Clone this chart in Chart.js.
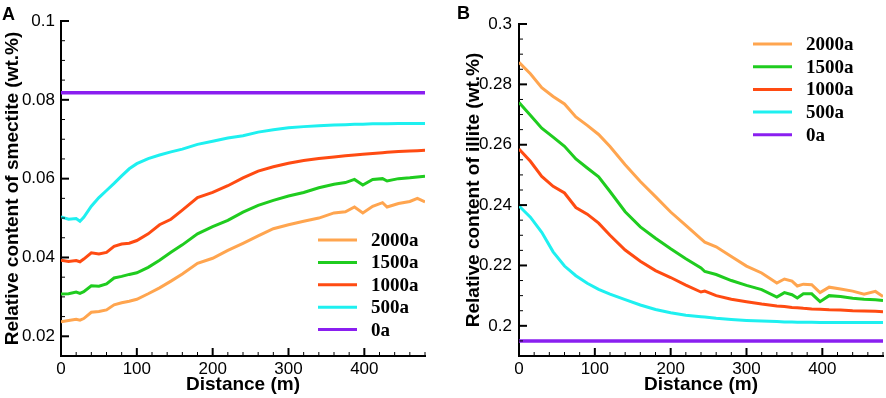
<!DOCTYPE html>
<html>
<head>
<meta charset="utf-8">
<title>Relative content of smectite and illite vs distance</title>
<script src="https://cdn.jsdelivr.net/npm/chart.js"></script>
<style>
    body { margin: 0; background: #fff; }
    #wrap { position: relative; width: 886px; height: 398px; overflow: hidden; }
    .panel { position: absolute; top: 0; width: 443px; height: 398px; }
    #panelA { left: 0; }
    #panelB { left: 443px; }
    .tag { position: absolute; font: bold 18px Arial, "Liberation Sans", sans-serif; line-height: 1; color: #000; }
</style>
</head>
<body>
<div id="wrap">
    <div class="panel" id="panelA"><canvas id="smectite-chart" width="443" height="398"></canvas></div>
    <div class="panel" id="panelB"><canvas id="illite-chart" width="443" height="398"></canvas></div>
    <div class="tag" style="left:2px;top:5px">A</div>
    <div class="tag" style="left:457px;top:4px">B</div>
</div>

<script>
// ---- panel A: smectite (distance in m, content in wt.%) ----
const distA = [0, 10, 20, 25, 30, 40, 50, 60, 70, 80, 90, 100, 115, 130, 145, 160, 180, 200, 220, 240,
               260, 280, 300, 320, 340, 360, 375, 387, 398, 411, 424, 430, 445, 460, 470, 480];
const smectite2000 = [0.0237, 0.0240, 0.0243, 0.0241, 0.0245, 0.0261, 0.0263, 0.0267, 0.0280, 0.0285,
                      0.0289, 0.0294, 0.0308, 0.0323, 0.0340, 0.0358, 0.0385, 0.0398, 0.0418, 0.0436,
                      0.0455, 0.0473, 0.0483, 0.0492, 0.0500, 0.0513, 0.0516, 0.0528, 0.0513, 0.0530,
                      0.0539, 0.0528, 0.0537, 0.0542, 0.0550, 0.0541];
const smectite1500 = [0.0307, 0.0308, 0.0312, 0.0309, 0.0313, 0.0328, 0.0327, 0.0333, 0.0348, 0.0352,
                      0.0357, 0.0361, 0.0375, 0.0393, 0.0413, 0.0432, 0.0460, 0.0478, 0.0494, 0.0515,
                      0.0532, 0.0545, 0.0556, 0.0565, 0.0577, 0.0586, 0.0590, 0.0598, 0.0584, 0.0598,
                      0.0600, 0.0594, 0.0600, 0.0602, 0.0604, 0.0606];
const smectite1000 = [0.0393, 0.0390, 0.0392, 0.0389, 0.0396, 0.0412, 0.0409, 0.0413, 0.0428, 0.0434,
                      0.0436, 0.0443, 0.0460, 0.0483, 0.0497, 0.0520, 0.0552, 0.0565, 0.0582, 0.0602,
                      0.0619, 0.0630, 0.0639, 0.0646, 0.0651, 0.0655, 0.0658, 0.0660, 0.0662, 0.0664,
                      0.0666, 0.0667, 0.0669, 0.0670, 0.0671, 0.0672];
const smectite500  = [0.0503, 0.0497, 0.0499, 0.0492, 0.0502, 0.0530, 0.0552, 0.0570, 0.0588, 0.0607,
                      0.0625, 0.0638, 0.0651, 0.0660, 0.0668, 0.0675, 0.0687, 0.0695, 0.0703, 0.0709,
                      0.0718, 0.0724, 0.0729, 0.0732, 0.0734, 0.0736, 0.0737, 0.0738, 0.0738, 0.0739,
                      0.0739, 0.0739, 0.0740, 0.0740, 0.0740, 0.0740];
const smectite0Dist = [0, 480];
const smectite0 = [0.0818, 0.0818];
const smectiteTicks = [0.02, 0.04, 0.06, 0.08, 0.1];

// ---- panel B: illite ----
const distB = [0, 15, 30, 45, 60, 75, 90, 105, 120, 140, 160, 180, 200, 220, 240, 245, 260, 280, 300, 320,
               340, 350, 360, 367, 375, 386, 397, 409, 424, 440, 455, 470, 480];
const illite2000 = [0.2873, 0.2835, 0.2789, 0.2760, 0.2735, 0.2692, 0.2664, 0.2634, 0.2594, 0.2534,
                    0.2478, 0.2428, 0.2377, 0.2333, 0.2288, 0.2277, 0.2262, 0.2230, 0.2198, 0.2175,
                    0.2142, 0.2155, 0.2148, 0.2132, 0.2138, 0.2136, 0.2110, 0.2128, 0.2122, 0.2115,
                    0.2105, 0.2114, 0.2097];
const illite1500 = [0.2740, 0.2698, 0.2655, 0.2625, 0.2595, 0.2553, 0.2523, 0.2494, 0.2445, 0.2378,
                    0.2328, 0.2290, 0.2255, 0.2222, 0.2192, 0.2180, 0.2170, 0.2150, 0.2134, 0.2120,
                    0.2095, 0.2110, 0.2103, 0.2092, 0.2106, 0.2106, 0.2080, 0.2100, 0.2097, 0.2091,
                    0.2088, 0.2086, 0.2084];
const illite1000 = [0.2586, 0.2545, 0.2495, 0.2462, 0.2440, 0.2392, 0.2370, 0.2340, 0.2300, 0.2251,
                    0.2214, 0.2183, 0.2160, 0.2135, 0.2112, 0.2115, 0.2100, 0.2088, 0.2080, 0.2072,
                    0.2066, 0.2064, 0.2061, 0.2060, 0.2058, 0.2056, 0.2055, 0.2053, 0.2052, 0.2050,
                    0.2049, 0.2048, 0.2047];
const illite500  = [0.2397, 0.2360, 0.2310, 0.2245, 0.2198, 0.2166, 0.2141, 0.2121, 0.2105, 0.2087,
                    0.2069, 0.2054, 0.2043, 0.2035, 0.2030, 0.2029, 0.2025, 0.2021, 0.2018, 0.2016,
                    0.2014, 0.2013, 0.2013, 0.2012, 0.2012, 0.2012, 0.2011, 0.2011, 0.2011, 0.2011,
                    0.2011, 0.2011, 0.2011];
const illite0Dist = [0, 480];
const illite0 = [0.195, 0.195];
const illiteTicks = [0.2, 0.22, 0.24, 0.26, 0.28, 0.3];

const distTicks = [0, 100, 200, 300, 400];
const seriesLabels = ['2000a', '1500a', '1000a', '500a', '0a'];
const seriesColors = ['#ffa54f', '#1fcc1f', '#ff4b12', '#1ef0f0', '#8a1ff0'];

const sansFont = 'Arial, "Liberation Sans", sans-serif';

function toPoints(xs, ys) {
    return xs.map((x, i) => ({ x: x, y: ys[i] }));
}

// tick marks drawn inside the plot, majors longer than minors
const innerTicks = {
    id: 'innerTicks',
    afterDatasetsDraw(chart, args, opts) {
        const ctx = chart.ctx;
        const area = chart.chartArea;
        const axes = [
            { scale: chart.scales.x, minor: opts.xMinor, major: opts.xMajor, horiz: true },
            { scale: chart.scales.y, minor: opts.yMinor, major: opts.yMajor, horiz: false }
        ];
        ctx.save();
        ctx.strokeStyle = '#000';
        axes.forEach(a => {
            const n = Math.round((a.scale.max - a.scale.min) / a.minor);
            for (let i = 0; i <= n; i++) {
                const v = a.scale.min + i * a.minor;
                const r = v / a.major;
                const isMajor = Math.abs(r - Math.round(r)) < 1e-6;
                const len = isMajor ? 8 : 4;
                ctx.lineWidth = isMajor ? 2 : 1;
                const p = a.scale.getPixelForValue(v);
                ctx.beginPath();
                if (a.horiz) {
                    ctx.moveTo(p, area.bottom);
                    ctx.lineTo(p, area.bottom - len);
                } else {
                    ctx.moveTo(area.left, p);
                    ctx.lineTo(area.left + len, p);
                }
                ctx.stroke();
            }
        });
        ctx.restore();
    }
};

// legend box: short line sample followed by a bold serif label
const sideLegend = {
    id: 'sideLegend',
    afterDraw(chart, args, opts) {
        const ctx = chart.ctx;
        ctx.save();
        ctx.font = 'bold 19px "Times New Roman", "Liberation Serif", serif';
        ctx.textBaseline = 'middle';
        ctx.fillStyle = '#000';
        chart.data.datasets.forEach((ds, row) => {
            const y = opts.top + row * opts.gap;
            ctx.strokeStyle = ds.borderColor;
            ctx.lineWidth = 3;
            ctx.beginPath();
            ctx.moveTo(opts.lineX0, y);
            ctx.lineTo(opts.lineX1, y);
            ctx.stroke();
            ctx.fillText(ds.label, opts.textX, y + 1);
        });
        ctx.restore();
    }
};

function makeChart(id, cfg) {
    const datasets = cfg.series.map((s, i) => ({
        label: seriesLabels[i],
        data: toPoints(s[0], s[1]),
        borderColor: seriesColors[i],
        borderWidth: i === 4 ? 3.5 : 3,
        pointRadius: 0,
        fill: false,
        tension: 0
    }));

    return new Chart(document.getElementById(id), {
        type: 'line',
        data: { datasets: datasets },
        options: {
            responsive: false,
            animation: false,
            layout: { padding: { top: cfg.top, right: cfg.right, left: 0, bottom: 0 } },
            plugins: {
                legend: { display: false },
                tooltip: { enabled: false },
                innerTicks: { xMinor: 20, xMajor: 100, yMinor: 0.005, yMajor: 0.02 },
                sideLegend: cfg.legend
            },
            scales: {
                x: {
                    type: 'linear',
                    min: 0,
                    max: 480,
                    afterBuildTicks: s => { s.ticks = distTicks.map(v => ({ value: v })); },
                    afterFit: s => { s.height = 42; },
                    grid: { drawOnChartArea: false, drawTicks: false },
                    border: { color: '#000', width: 2 },
                    ticks: { color: '#000', padding: 3, autoSkip: false, maxRotation: 0,
                             font: { family: sansFont, size: 17 } },
                    title: { display: true, text: 'Distance (m)', color: '#000',
                             padding: { top: 0, bottom: 2 },
                             font: { family: sansFont, size: 19, weight: 'bold' } }
                },
                y: {
                    type: 'linear',
                    min: cfg.yMin,
                    max: cfg.yMax,
                    afterBuildTicks: s => { s.ticks = cfg.yTicks.map(v => ({ value: v })); },
                    afterFit: s => { s.width = cfg.yWidth; },
                    grid: { drawOnChartArea: false, drawTicks: false },
                    border: { color: '#000', width: 2 },
                    ticks: { color: '#000', padding: cfg.yPad,
                             font: { family: sansFont, size: 17 },
                             callback: v => String(Number(v.toFixed(3))) },
                    title: { display: true, text: cfg.yTitle, color: '#000',
                             padding: { top: cfg.titlePad, bottom: 0 },
                             font: { family: sansFont, size: 19, weight: 'bold' } }
                }
            }
        },
        plugins: [innerTicks, sideLegend]
    });
}

makeChart('smectite-chart', {
    series: [[distA, smectite2000], [distA, smectite1500], [distA, smectite1000],
             [distA, smectite500], [smectite0Dist, smectite0]],
    yMin: 0.015, yMax: 0.1, yTicks: smectiteTicks,
    yTitle: 'Relative content of smectite (wt.%)',
    top: 21, right: 18, yWidth: 61, yPad: 6, titlePad: 1,
    legend: { lineX0: 318, lineX1: 357, textX: 371, top: 240, gap: 22.4 }
});

makeChart('illite-chart', {
    series: [[distB, illite2000], [distB, illite1500], [distB, illite1000],
             [distB, illite500], [illite0Dist, illite0]],
    yMin: 0.19, yMax: 0.3, yTicks: illiteTicks,
    yTitle: 'Relative content of illite (wt.%)',
    top: 24, right: 3, yWidth: 76, yPad: 7, titlePad: 19,
    legend: { lineX0: 310, lineX1: 349, textX: 363, top: 44, gap: 22.7 }
});
</script>
</body>
</html>
